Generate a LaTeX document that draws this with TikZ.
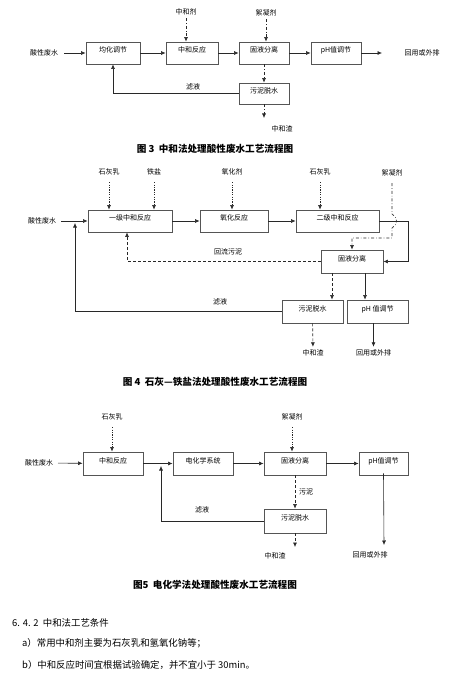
\documentclass[tikz,border=0pt]{standalone}
\usepackage{fontspec}
\setmainfont{Noto Sans CJK SC}
\usetikzlibrary{arrows.meta}
\definecolor{boxgrey}{RGB}{85,85,85}
\definecolor{linegrey}{RGB}{40,40,40}

\begin{document}
\begin{tikzpicture}[x=1pt,y=-1pt,>={Latex[length=4.5pt,width=4pt]},
    box/.style={draw=boxgrey, line width=0.8pt, inner sep=0pt, font=\fontsize{7}{8}\selectfont, text height=5.5pt, text depth=6pt},
    lbl/.style={inner sep=1pt, outer sep=2pt, font=\fontsize{7}{8}\selectfont},
    captxt/.style={inner sep=0pt, font=\fontsize{9.6}{11}\selectfont\bfseries},
    txt/.style={anchor=west, inner sep=0pt, font=\fontsize{9.4}{11}\selectfont},
    flow/.style={->, draw=linegrey, line width=0.6pt},
    dflow/.style={->, draw=linegrey, line width=0.6pt, densely dashed},
    pflow/.style={->, draw=linegrey, line width=0.6pt, dash pattern=on 1.2pt off 1.2pt},
    ddflow/.style={->, draw=linegrey, line width=0.6pt, dash dot}]
    \useasboundingbox (0,0) rectangle (460,687);

    % figure 3
    \node[box, minimum width=54pt, minimum height=22pt] (jh1) at (113,53) {均化调节};
    \node[box, minimum width=52pt, minimum height=22pt] (zh1) at (192,53) {中和反应};
    \node[box, minimum width=50pt, minimum height=22pt] (gy1) at (264,53) {固液分离};
    \node[box, minimum width=50pt, minimum height=22pt] (ph1) at (336,53) {pH值调节};
    \node[box, minimum width=50pt, minimum height=21pt] (wn1) at (264,93.5) {污泥脱水};

    \node[lbl, outer sep=5pt] (in1) at (44,53) {酸性废水};
    \node[lbl] (out1) at (422,53) {回用或外排};
    \node[lbl] (zhj1) at (186,12) {中和剂};
    \node[lbl] (xn1) at (266,13) {絮凝剂};
    \node[lbl] (zz1) at (282,129) {中和渣};
    \node[lbl] at (193,87) {滤液};
    \coordinate (e1) at (382,53);
    \coordinate (z1) at (264,118);

    \draw[flow] (in1) -- (jh1);
    \draw[flow] (jh1) -- (zh1);
    \draw[flow] (zh1) -- (gy1);
    \draw[flow] (gy1) -- (ph1);
    \draw[flow] (ph1) -- (e1);
    \draw[ddflow] (zhj1) -- (zhj1 |- zh1.north);
    \draw[ddflow] (xn1) -- (xn1 |- gy1.north);
    \draw[ddflow] (gy1) -- (wn1);
    \draw[ddflow] (wn1) -- (z1);
    \draw[flow] (wn1.west) -| (jh1.south);

    \node[captxt] at (215,149) {图 3\ \ 中和法处理酸性废水工艺流程图};

    % figure 4
    \node[box, minimum width=84pt, minimum height=22pt] (yj2) at (130,221) {一级中和反应};
    \node[box, minimum width=68pt, minimum height=22pt] (yh2) at (234,221) {氧化反应};
    \node[box, minimum width=83pt, minimum height=22pt] (ej2) at (337.5,221) {二级中和反应};
    \node[box, minimum width=62pt, minimum height=23pt] (gy2) at (352,261.5) {固液分离};
    \node[box, minimum width=61pt, minimum height=23pt] (wn2) at (312.5,311.5) {污泥脱水};
    \node[box, minimum width=61pt, minimum height=23pt] (ph2) at (377.5,311.5) {pH 值调节};

    \node[lbl, outer sep=4pt] (in2) at (42,221) {酸性废水};
    \node[lbl, outer sep=6pt] (sh2a) at (109,172) {石灰乳};
    \node[lbl, outer sep=6pt] (ty2) at (154,172) {铁盐};
    \node[lbl, outer sep=6pt] (yhj2) at (232,172) {氧化剂};
    \node[lbl, outer sep=6pt] (sh2b) at (320,172) {石灰乳};
    \node[lbl, outer sep=6pt] (xn2) at (392,173) {絮凝剂};
    \node[lbl] (zz2) at (313,353) {中和渣};
    \node[lbl] (out2) at (373.5,353) {回用或外排};
    \node[lbl] at (228,252) {回流污泥};
    \node[lbl] at (220,302) {滤液};
    \coordinate (j2) at (75,223);

    \draw[flow] (in2) -- (yj2);
    \draw[flow] (yj2) -- (yh2);
    \draw[flow] (yh2) -- (ej2);
    \draw[pflow] (sh2a) -- (sh2a |- yj2.north);
    \draw[pflow] (ty2) -- (ty2 |- yj2.north);
    \draw[pflow] (yhj2) -- (yhj2 |- yh2.north);
    \draw[pflow] (sh2b) -- (sh2b |- ej2.north);
    \draw[ddflow] (xn2) -- (392,214) .. controls (398,217) and (398,225) .. (392,228) -- (392,238) -| (gy2.north);
    \draw[flow] (ej2.east) -- (408,221) |- (gy2.east);
    \draw[dflow] (gy2.west) -| ([xshift=-3pt]yj2.south);
    \draw[dflow] ([xshift=-20pt]gy2.south) -- ([xshift=-20pt]gy2.south |- wn2.north);
    \draw[flow] ([xshift=13pt]gy2.south) -- ([xshift=13pt]gy2.south |- ph2.north);
    \draw[dflow] (wn2) -- (zz2);
    \draw[flow] ([xshift=-4pt]ph2.south) -- (out2);
    \draw[flow] (wn2.west) -| (j2);

    \node[captxt] at (215,382) {图 4\ \ 石灰—铁盐法处理酸性废水工艺流程图};

    % figure 5
    \node[box, minimum width=60pt, minimum height=23pt] (zh3) at (113,463.5) {中和反应};
    \node[box, minimum width=60pt, minimum height=23pt] (dh3) at (203,463.5) {电化学系统};
    \node[box, minimum width=62pt, minimum height=23pt] (gy3) at (295,463.5) {固液分离};
    \node[box, minimum width=49pt, minimum height=23pt] (ph3) at (383.5,463.5) {pH值调节};
    \node[box, minimum width=62pt, minimum height=24pt] (wn3) at (295,521) {污泥脱水};

    \node[lbl, outer sep=4pt] (in3) at (39,463) {酸性废水};
    \node[lbl, outer sep=6pt] (sh3) at (112,417) {石灰乳};
    \node[lbl, outer sep=6pt] (xn3) at (292,417) {絮凝剂};
    \node[lbl] at (275,556) {中和渣};
    \node[lbl] at (370,555) {回用或外排};
    \node[lbl] at (202,510) {滤液};
    \coordinate (j3) at (161,466);
    \coordinate (z3) at (295,547);
    \coordinate (e3) at (384,545);

    \draw[flow] (in3) -- (zh3);
    \draw[flow] (zh3) -- (dh3);
    \draw[flow] (dh3) -- (gy3);
    \draw[flow] (gy3) -- (ph3);
    \draw[pflow] (sh3) -- (sh3 |- zh3.north);
    \draw[pflow] (xn3) -- (xn3 |- gy3.north);
    \draw[dflow] (gy3) -- (wn3) node[lbl, midway, right, xshift=1pt] {污泥};
    \draw[dflow] (wn3) -- (z3);
    \draw[flow] ([yshift=2pt]ph3.south) -- (e3);
    \draw[flow] (wn3.west) -| (j3);

    \node[captxt] at (215,585) {图5\ \ 电化学法处理酸性废水工艺流程图};

    % text below
    \node[txt] at (12,623) {6. 4. 2\ \ 中和法工艺条件};
    \node[txt] at (22,643) {a）常用中和剂主要为石灰乳和氢氧化钠等；};
    \node[txt] at (22,665) {b）中和反应时间宜根据试验确定，并不宜小于 30min。};
\end{tikzpicture}
\end{document}
